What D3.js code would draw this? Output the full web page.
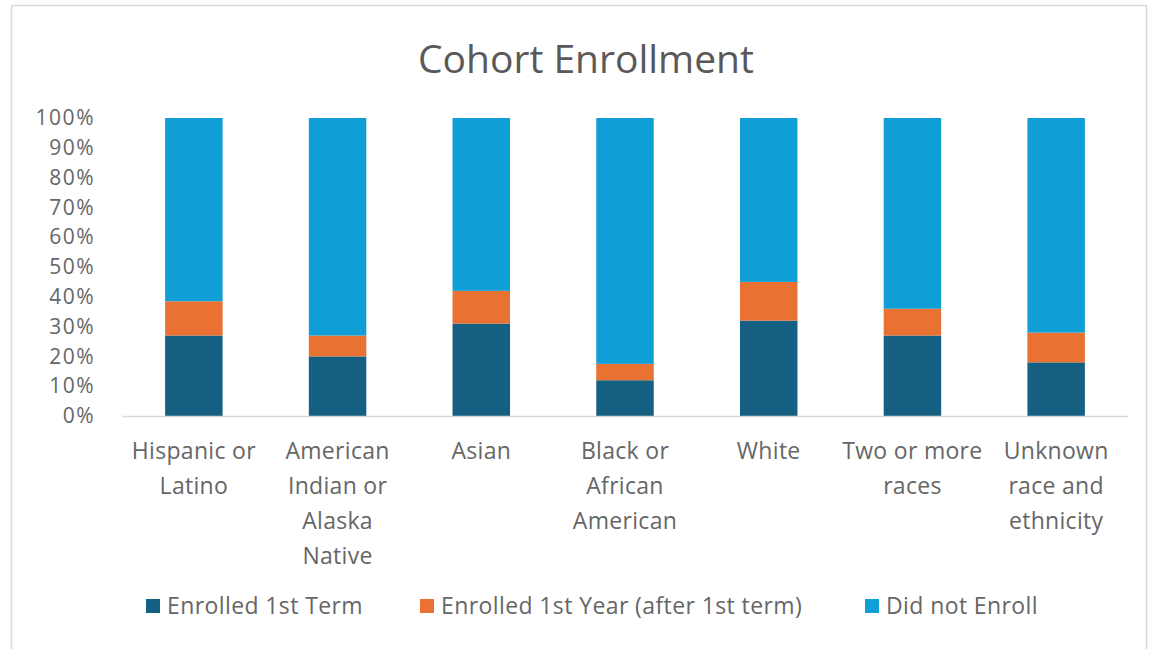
<!DOCTYPE html>
<html>
<head>
<meta charset="utf-8">
<script src="https://cdn.jsdelivr.net/npm/d3@7"></script>
<style>
  html, body { margin: 0; padding: 0; background: #ffffff; }
  svg { display: block; }
  text { font-family: "Open Sans", "Liberation Sans", sans-serif; }
</style>
</head>
<body>
<svg id="chart" width="1151" height="649"></svg>
<script>
// Categories along the x axis (line breaks as shown under each bar)
const categories = [
  "Hispanic or Latino",
  "American Indian or Alaska Native",
  "Asian",
  "Black or African American",
  "White",
  "Two or more races",
  "Unknown race and ethnicity"
];
const categoryLines = [
  ["Hispanic or", "Latino"],
  ["American", "Indian or", "Alaska", "Native"],
  ["Asian"],
  ["Black or", "African", "American"],
  ["White"],
  ["Two or more", "races"],
  ["Unknown", "race and", "ethnicity"]
];

// Share of each cohort (percent)
const enrolledFirstTerm = [27, 20, 31, 12, 32, 27, 18];
const enrolledFirstYear = [11.5, 7, 11, 5.5, 13, 9, 10];
const didNotEnroll      = [61.5, 73, 58, 82.5, 55, 64, 72];

const seriesNames = ["Enrolled 1st Term", "Enrolled 1st Year (after 1st term)", "Did not Enroll"];
const seriesColors = ["#156082", "#E97132", "#0F9ED5"];

const yTicks = [0, 10, 20, 30, 40, 50, 60, 70, 80, 90, 100];

const svg = d3.select("#chart");

// Chart frame
svg.append("rect")
  .attr("x", 11.5).attr("y", 5.5)
  .attr("width", 1135).attr("height", 660)
  .attr("fill", "#ffffff")
  .attr("stroke", "#d9d9d9")
  .attr("stroke-width", 1.5);

// Title
svg.append("text")
  .attr("x", 586).attr("y", 73)
  .attr("text-anchor", "middle")
  .attr("font-size", 39)
  .attr("fill", "#595959")
  .text("Cohort Enrollment");

const plot = { left: 122, right: 1128, top: 118, bottom: 416 };

const x = d3.scaleBand()
  .domain(categories)
  .range([plot.left, plot.right])
  .paddingInner(0.6)
  .paddingOuter(0.3);

const y = d3.scaleLinear()
  .domain([0, 100])
  .range([plot.bottom, plot.top]);

// Stack the three series
const rows = categories.map((c, i) => ({
  category: c,
  s0: enrolledFirstTerm[i],
  s1: enrolledFirstYear[i],
  s2: didNotEnroll[i]
}));
const stack = d3.stack().keys(["s0", "s1", "s2"]);
const layers = stack(rows);

svg.append("g")
  .selectAll("g")
  .data(layers)
  .join("g")
    .attr("fill", (d, i) => seriesColors[i])
  .selectAll("rect")
  .data(d => d)
  .join("rect")
    .attr("x", d => x(d.data.category))
    .attr("width", x.bandwidth())
    .attr("y", d => y(d[1]))
    .attr("height", d => y(d[0]) - y(d[1]));

// Y axis (labels only)
const yAxis = d3.axisLeft(y)
  .tickValues(yTicks)
  .tickSize(0)
  .tickPadding(27)
  .tickFormat(d => d + "%");
const gy = svg.append("g")
  .attr("transform", `translate(${plot.left},0)`)
  .call(yAxis);
gy.select(".domain").remove();
gy.selectAll("text")
  .attr("font-size", 21)
  .attr("letter-spacing", 1.5)
  .attr("fill", "#666666")
  .attr("font-family", "\"Open Sans\", sans-serif");

// X axis baseline
const xAxis = d3.axisBottom(x).tickSize(0).tickFormat("");
const gx = svg.append("g")
  .attr("transform", `translate(0,${plot.bottom})`)
  .call(xAxis);
gx.select(".domain").attr("stroke", "#d9d9d9").attr("stroke-width", 1.5);

// Multi-line category labels
const labelGroup = svg.append("g");
categories.forEach((c, i) => {
  const cx = x(c) + x.bandwidth() / 2;
  const t = labelGroup.append("text")
    .attr("text-anchor", "middle")
    .attr("font-size", 23)
    .attr("letter-spacing", 0.3)
    .attr("fill", "#666666");
  categoryLines[i].forEach((line, j) => {
    t.append("tspan")
      .attr("x", cx)
      .attr("y", 459 + j * 35)
      .text(line);
  });
});

// Legend
const legendX = [146, 420, 865];
const legend = svg.append("g");
seriesNames.forEach((name, i) => {
  const g = legend.append("g").attr("transform", `translate(${legendX[i]},599)`);
  g.append("rect")
    .attr("width", 14).attr("height", 14)
    .attr("fill", seriesColors[i]);
  g.append("text")
    .attr("x", 21).attr("y", 15)
    .attr("font-size", 23)
    .attr("letter-spacing", 0.4)
    .attr("fill", "#666666")
    .text(name);
});
</script>
</body>
</html>
